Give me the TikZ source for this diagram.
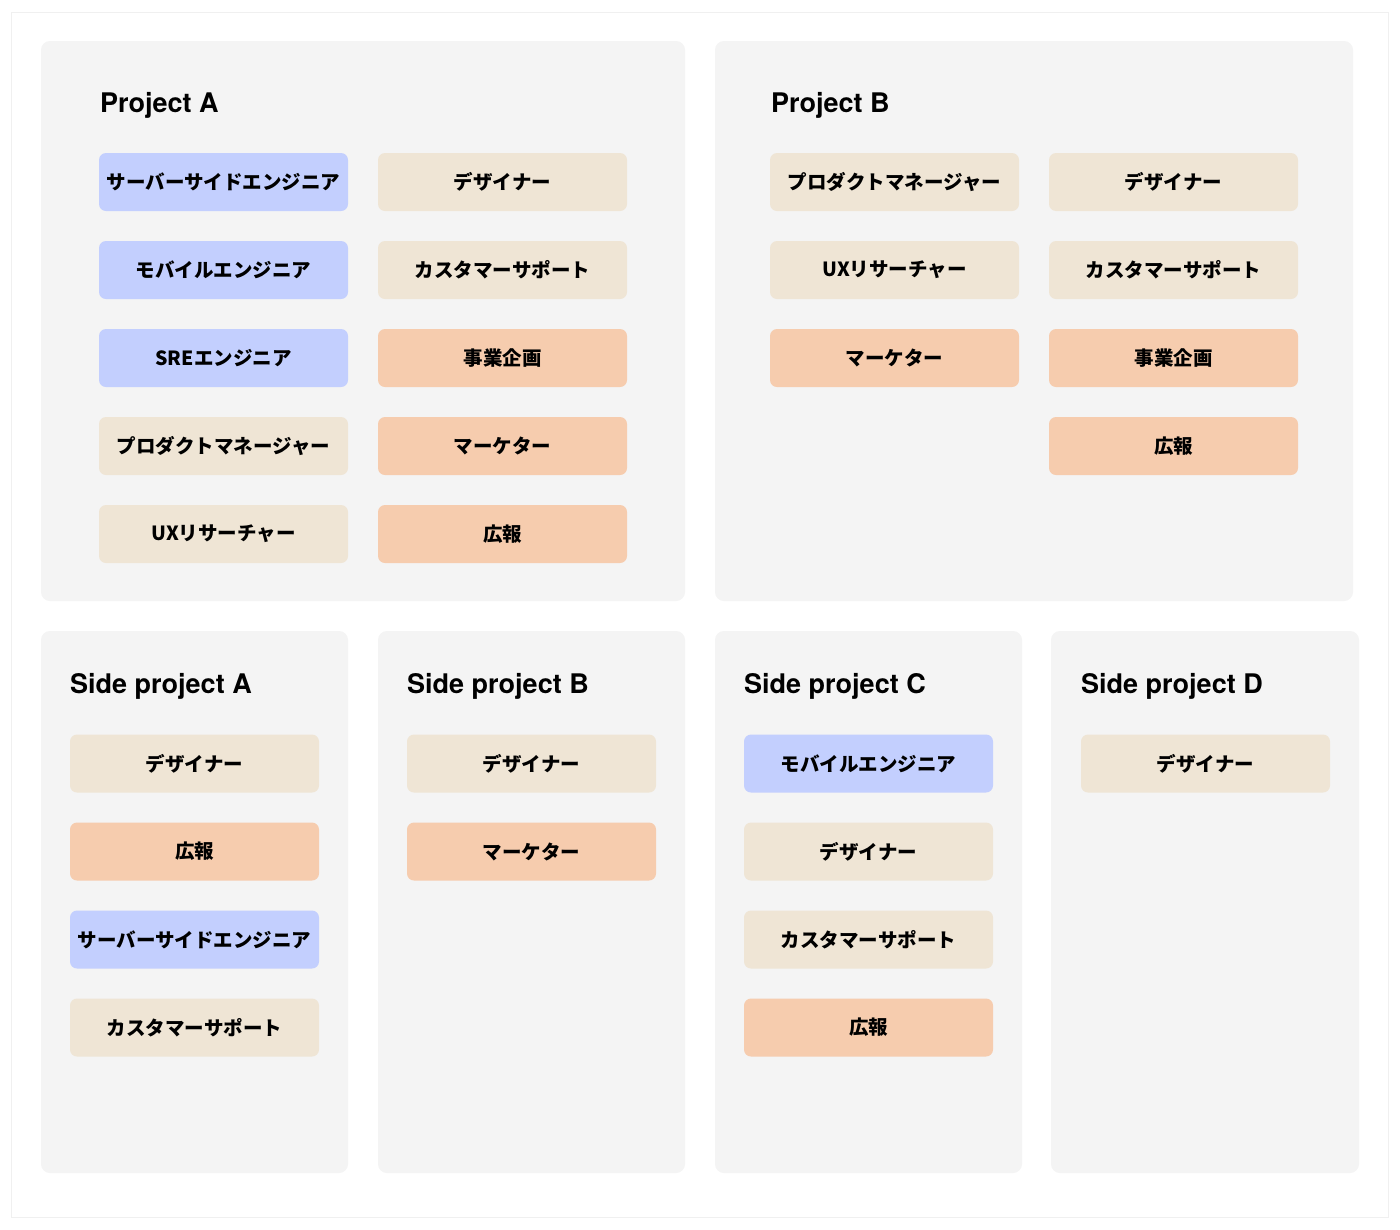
\documentclass[tikz,border=0pt]{standalone}
\usepackage{fontspec}
\newfontfamily\jpfont{Noto Sans CJK JP}
\newfontfamily\titlefont{TeX Gyre Heros}
\definecolor{panelbg}{HTML}{F4F4F4}
\definecolor{engblue}{HTML}{C3CFFE}
\definecolor{crbeige}{HTML}{EFE5D5}
\definecolor{bizorange}{HTML}{F6CCAE}
\definecolor{framegray}{HTML}{F0F0F0}
\tikzset{
  panel/.style={fill=panelbg, draw=none, rounded corners=9pt},
  role/.style={draw=none, rounded corners=7pt, minimum width=249pt, minimum height=58pt,
    inner sep=0pt, font=\jpfont\bfseries\fontsize{19.5pt}{19.5pt}\selectfont, text=black},
  eng/.style={role, fill=engblue},
  cre/.style={role, fill=crbeige},
  biz/.style={role, fill=bizorange},
  ptitle/.style={anchor=base west, inner sep=0pt, font=\titlefont\bfseries\fontsize{27pt}{27pt}\selectfont}
}
\begin{document}
\begin{tikzpicture}[x=1pt,y=-1pt]
\useasboundingbox (0,0) rectangle (1400,1229);
\fill[white] (0,0) rectangle (1400,1229);
\draw[framegray, line width=0.8pt] (11.5,12.5) rectangle (1388,1217);
% panels
\fill[panel] (41,41) rectangle (685,601);
\fill[panel] (715,41) rectangle (1353,601);
\fill[panel] (41,631) rectangle (348,1173);
\fill[panel] (378,631) rectangle (685,1173);
\fill[panel] (715,631) rectangle (1022,1173);
\fill[panel] (1051,631) rectangle (1359,1173);
% titles
\node[ptitle] (tA) at (100,112) {Project A};
\node[ptitle] (tB) at (771,112) {Project B};
\node[ptitle] (tSA) at (70,693) {Side project A};
\node[ptitle] (tSB) at (407,693) {Side project B};
\node[ptitle] (tSC) at (744,693) {Side project C};
\node[ptitle] (tSD) at (1081,693) {Side project D};
% Project A
\node[eng] (a11) at (223.5,182) {サーバーサイドエンジニア};
\node[eng] (a21) at (223.5,270) {モバイルエンジニア};
\node[eng] (a31) at (223.5,358) {SREエンジニア};
\node[cre] (a41) at (223.5,446) {プロダクトマネージャー};
\node[cre] (a51) at (223.5,534) {UXリサーチャー};
\node[cre] (a12) at (502.5,182) {デザイナー};
\node[cre] (a22) at (502.5,270) {カスタマーサポート};
\node[biz] (a32) at (502.5,358) {事業企画};
\node[biz] (a42) at (502.5,446) {マーケター};
\node[biz] (a52) at (502.5,534) {広報};
% Project B
\node[cre] (b11) at (894.5,182) {プロダクトマネージャー};
\node[cre] (b21) at (894.5,270) {UXリサーチャー};
\node[biz] (b31) at (894.5,358) {マーケター};
\node[cre] (b12) at (1173.5,182) {デザイナー};
\node[cre] (b22) at (1173.5,270) {カスタマーサポート};
\node[biz] (b32) at (1173.5,358) {事業企画};
\node[biz] (b42) at (1173.5,446) {広報};
% Side project A
\node[cre] (sa1) at (194.5,763.5) {デザイナー};
\node[biz] (sa2) at (194.5,851.5) {広報};
\node[eng] (sa3) at (194.5,939.5) {サーバーサイドエンジニア};
\node[cre] (sa4) at (194.5,1027.5) {カスタマーサポート};
% Side project B
\node[cre] (sb1) at (531.5,763.5) {デザイナー};
\node[biz] (sb2) at (531.5,851.5) {マーケター};
% Side project C
\node[eng] (sc1) at (868.5,763.5) {モバイルエンジニア};
\node[cre] (sc2) at (868.5,851.5) {デザイナー};
\node[cre] (sc3) at (868.5,939.5) {カスタマーサポート};
\node[biz] (sc4) at (868.5,1027.5) {広報};
% Side project D
\node[cre] (sd1) at (1205.5,763.5) {デザイナー};
\end{tikzpicture}
\end{document}
